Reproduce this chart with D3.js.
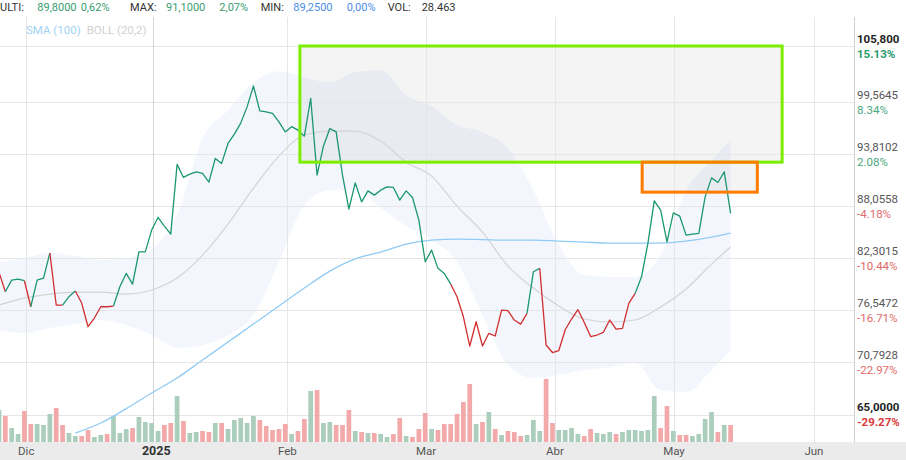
<!DOCTYPE html>
<html><head><meta charset="utf-8">
<script src="https://cdn.jsdelivr.net/npm/d3@7"></script>
<style>
html,body{margin:0;padding:0;background:#fff;}
svg{display:block;font-family:Roboto,"Noto Sans",sans-serif;}
</style></head><body>
<svg id="chart" width="906" height="460"></svg>
<script>
// ---------------- DATA ----------------
const closes = [80.77,78.59,79.88,79.99,79.81,76.93,79.88,80.10,82.87,77.12,
77.12,78.04,78.67,77.34,74.72,75.68,76.93,76.93,77.01,79.14,
80.62,79.44,83.01,83.01,85.42,86.82,85.86,84.97,92.69,91.25,
91.61,91.87,91.69,90.73,93.35,92.80,95.01,96.04,97.26,99.06,
101.38,98.62,98.51,98.33,97.40,96.29,96.87,96.48,95.82,99.99,
91.50,94.71,96.67,96.29,91.50,87.74,90.65,88.55,89.76,89.29,
89.84,90.21,90.14,88.74,89.76,89.03,86.52,81.91,83.20,81.18,
80.62,79.44,78.04,75.82,72.58,75.27,72.58,73.99,73.69,76.56,
76.49,75.46,75.01,76.20,80.80,81.18,72.69,71.86,72.08,74.38,
75.57,76.60,75.18,73.63,73.80,74.10,75.46,74.46,74.54,77.31,
78.41,80.25,83.94,88.66,87.63,84.12,87.33,86.97,84.86,84.97,
85.05,89.10,91.20,90.69,91.87,87.26];

// trend colour of each segment (i -> i+1): 1 = up (green), -1 = down (red)
const segTrend = [-1,1,1,1,-1,1,1,1,-1,-1,
1,1,-1,-1,-1,-1,-1,-1,1,1,
1,1,1,1,1,1,1,1,1,1,
1,1,1,1,1,1,1,1,1,1,
1,1,1,1,1,1,1,1,1,1,
1,1,1,1,1,1,1,1,1,1,
1,1,1,1,1,1,1,1,1,1,
1,-1,-1,-1,-1,-1,-1,-1,-1,-1,
-1,-1,-1,1,1,-1,-1,-1,-1,-1,
-1,-1,-1,-1,-1,-1,-1,-1,-1,-1,
1,1,1,1,1,1,1,1,1,1,
1,1,1,1,1];

// volume (thousands)
const volumes = [53.6,43.5,23.4,13.4,51.9,30.1,30.1,28.5,46.9,56.9,
28.5,15.1,10.0,10.0,20.1,8.4,11.7,13.4,43.5,15.1,
21.8,23.4,41.9,33.5,31.8,18.4,28.5,31.8,77.0,35.2,
15.1,16.7,18.4,16.7,31.8,31.8,21.8,36.8,40.2,31.8,
43.5,36.8,26.8,20.1,21.8,30.1,13.4,18.4,38.5,85.4,
87.0,31.8,33.5,28.5,28.5,53.6,18.4,16.7,15.1,15.1,
13.4,8.4,13.4,40.2,10.0,8.4,21.8,48.5,21.8,20.1,
30.1,30.1,46.9,67.0,97.1,30.1,33.5,50.2,21.8,11.7,
18.4,16.7,10.0,11.7,36.8,18.4,105.5,31.8,20.1,20.1,
23.4,13.4,10.0,21.8,15.1,13.4,16.7,13.4,16.7,20.1,
20.1,18.4,20.1,77.0,23.4,60.3,18.4,11.7,11.7,10.0,
13.4,38.5,50.2,16.7,28.5,28.5];
const volUp = [1,0,1,1,0,0,1,1,1,0,
0,1,1,0,0,1,1,0,1,1,
1,0,1,1,1,1,0,0,1,0,
1,1,0,0,1,0,1,1,1,1,
1,0,0,0,0,0,1,0,0,1,
0,1,1,0,0,0,1,0,1,0,
1,1,0,0,1,0,0,0,1,0,
0,0,0,0,0,1,0,1,0,1,
0,0,0,1,1,1,0,0,1,1,
1,1,0,0,1,1,1,0,1,1,
1,1,1,1,0,0,1,0,0,1,
1,1,1,0,1,0];

// Bollinger (20,2)
const bandIdx   = [0,4,8,12,16,20,24,28,32,36,40,44,48,52,56,60,64,68,72,76,80,84,88,92,96,100,104,108,112,115];
const bollUpper = [81.88,82.32,82.87,82.54,82.10,82.32,83.31,87.08,95.60,98.70,101.79,103.01,102.35,101.79,102.90,103.12,100.36,99.14,97.04,96.26,94.49,89.84,83.76,80.44,80.22,80.22,82.65,89.84,93.16,95.38];
const bollMid   = [77.12,77.89,78.33,78.56,78.56,78.33,78.78,80.11,82.65,86.08,90.06,93.61,95.93,96.37,96.37,95.27,92.94,91.39,88.07,85.20,81.43,79.00,77.01,75.57,75.24,75.46,76.90,78.89,81.65,83.54];
const bollLower = [74.35,74.02,74.57,75.01,75.46,74.90,73.80,72.36,72.69,73.80,76.01,81.88,88.18,89.84,89.84,87.85,85.86,84.31,81.88,76.01,70.48,69.04,69.37,69.92,70.26,70.70,67.71,67.49,69.92,72.14];

// SMA (100)
const smaIdx = [12,16,20,24,28,32,36,40,44,48,52,56,60,64,68,72,76,80,84,88,92,96,100,104,108,112,115];
const sma100 = [62.95,64.06,65.65,67.38,69.04,71.03,73.02,75.01,77.01,79.00,80.88,82.24,82.98,83.87,84.31,84.42,84.37,84.31,84.31,84.20,84.09,83.98,83.98,83.98,84.20,84.64,85.09];

// axis ticks
const priceTicks = [65,70.7928,76.5472,82.3015,88.0558,93.8102,99.5645,105.8];
const priceTickLabels = ["65,0000","70,7928","76,5472","82,3015","88,0558","93,8102","99,5645","105,800"];
const pctTickLabels = ["-29.27%","-22.97%","-16.71%","-10.44%","-4.18%","2.08%","8.34%","15.13%"];
const monthTickIdx = [4.29,24.26,45.32,67.12,87.4,106.1,128.1];
const monthTickLabels = ["Dic","2025","Feb","Mar","Abr","May","Jun"];

// annotation zones (index, price)
const zoneA = {i0:47.3, i1:123.1, pLow:92.94, pHigh:105.8};
const zoneB = {i0:101.1, i1:119.2, pLow:89.62, pHigh:92.94};

// header
const headerTexts = ["ULTI:","89,8000","0,62%","MAX:","91,1000","2,07%","MIN:","89,2500","0,00%","VOL:","28.463"];
const headerKinds = ["lab","up","up","lab","up","up","lab","min","min","lab","lab"];
const legendLabels = ["SMA (100)","BOLL (20,2)"];

// ---------------- LAYOUT ----------------
const W=906,H=460, plotL=0, plotR=854, plotT=17, plotB=442;
const svg=d3.select("#chart");

const x=d3.scaleLinear().domain([0,115]).range([-1.03,730.6]);
const y=d3.scaleLinear().domain([65,105.8]).range([414.5,46]);
const yv=d3.scaleLinear().domain([0,105.5]).range([plotB,plotB-63]);
const step=x(1)-x(0);

svg.append("defs").append("clipPath").attr("id","clip")
  .append("rect").attr("x",plotL).attr("y",plotT).attr("width",plotR-plotL).attr("height",plotB-plotT);

// bottom axis band
svg.append("rect").attr("x",0).attr("y",plotB).attr("width",W).attr("height",H-plotB).attr("fill","#ebebeb");

const plot=svg.append("g").attr("clip-path","url(#clip)");

// zone fills
[zoneA,zoneB].forEach(z=>{
  plot.append("rect").attr("x",x(z.i0)).attr("y",y(z.pHigh))
    .attr("width",x(z.i1)-x(z.i0)).attr("height",y(z.pLow)-y(z.pHigh))
    .attr("fill","rgba(0,0,0,0.045)");
});

// bollinger band
const bandArea=d3.area().curve(d3.curveMonotoneX)
  .x((d,k)=>x(bandIdx[k])).y0((d,k)=>y(bollLower[k])).y1((d,k)=>y(bollUpper[k]));
plot.append("path").attr("d",bandArea(bandIdx)).attr("fill","rgba(30,100,200,0.055)");

// gridlines
const grid=plot.append("g");
priceTicks.forEach(p=>{
  grid.append("line").attr("x1",plotL).attr("x2",plotR).attr("y1",Math.round(y(p))+0.5).attr("y2",Math.round(y(p))+0.5)
    .attr("stroke","#e6e6e6").attr("stroke-width",1);
});
monthTickIdx.forEach((m,k)=>{
  const xx=Math.round(x(m))+0.5;
  grid.append("line").attr("x1",xx).attr("x2",xx).attr("y1",plotT).attr("y2",plotB)
    .attr("stroke",monthTickLabels[k]==="2025"?"#d6d6d6":"#e6e6e6").attr("stroke-width",1);
});

// volume bars
plot.append("g").selectAll("rect").data(volumes).join("rect")
  .attr("x",(d,i)=>x(i)-step*0.37).attr("width",step*0.74)
  .attr("y",d=>yv(d)).attr("height",d=>plotB-yv(d))
  .attr("fill",(d,i)=>volUp[i]?"#abcdbb":"#f3a9a9");

// indicator lines
const bl=d3.line().curve(d3.curveMonotoneX).x((d,k)=>x(bandIdx[k])).y(d=>y(d));
plot.append("path").attr("d",bl(bollMid)).attr("fill","none").attr("stroke","#d4d4d4").attr("stroke-width",1.2);
const sl=d3.line().curve(d3.curveMonotoneX).x((d,k)=>x(smaIdx[k])).y(d=>y(d));
plot.append("path").attr("d",sl(sma100)).attr("fill","none").attr("stroke","#8fcbf5").attr("stroke-width",1.3);

// price line coloured by trend
const pl=d3.line().x(i=>x(i)).y(i=>y(closes[i]));
let start=0;
for(let s=1;s<=segTrend.length;s++){
  if(s===segTrend.length||segTrend[s]!==segTrend[start]){
    plot.append("path").attr("d",pl(d3.range(start,s+1))).attr("fill","none")
      .attr("stroke",segTrend[start]>0?"#1b9770":"#d12f2f").attr("stroke-width",1.3)
      .attr("stroke-linejoin","round");
    start=s;
  }
}

// zone borders
[[zoneA,"#7ded00"],[zoneB,"#ff7c00"]].forEach(([z,c])=>{
  plot.append("rect").attr("x",x(z.i0)).attr("y",y(z.pHigh))
    .attr("width",x(z.i1)-x(z.i0)).attr("height",y(z.pLow)-y(z.pHigh))
    .attr("fill","none").attr("stroke",c).attr("stroke-width",3);
});

// right axis
svg.append("line").attr("x1",plotR+0.5).attr("x2",plotR+0.5).attr("y1",plotT).attr("y2",plotB).attr("stroke","#d2d2d2");
const ax=svg.append("g").attr("font-size","11.5px");
priceTicks.forEach((p,k)=>{
  const yy=y(p); const edge=(k===0||k===priceTicks.length-1);
  ax.append("text").attr("x",plotR+3).attr("y",yy-7.5).attr("dy","0.35em")
    .attr("fill",edge?"#222":"#555").attr("font-weight",edge?"bold":"normal").text(priceTickLabels[k]);
  const up=p>=91.9;
  ax.append("text").attr("x",plotR+3).attr("y",yy+7.5).attr("dy","0.35em")
    .attr("fill",edge?(up?"#2a9a6c":"#d93a3a"):(up?"#4aa77d":"#e06a6a"))
    .attr("font-weight",edge?"bold":"normal").text(pctTickLabels[k]);
});

// month labels
monthTickIdx.forEach((m,k)=>{
  const yr=monthTickLabels[k]==="2025";
  svg.append("text").attr("x",x(m)+(yr?3:0)).attr("y",451).attr("dy","0.35em").attr("text-anchor","middle")
    .attr("font-size",yr?"12.5px":"11.5px")
    .attr("font-weight",yr?"bold":"normal")
    .attr("fill",yr?"#333":"#555").text(monthTickLabels[k]);
});

// header (x positions are layout)
const headerX=[0,37.3,80.7,130,166,219.3,260.7,293.3,346.7,387.7,421.7];
const hdr=svg.append("g").attr("font-size","11px");
headerTexts.forEach((t,k)=>{
  const kind=headerKinds[k];
  hdr.append("text").attr("x",headerX[k]).attr("y",7.5).attr("dy","0.35em")
    .attr("fill",kind==="up"?"#3a9d70":(kind==="min"?"#4b8ee8":"#333")).text(t);
});

// legend
const lg=svg.append("g").attr("font-size","11.5px");
const l1=lg.append("text").attr("x",26).attr("y",29.5).attr("dy","0.35em").attr("fill","#a3d3f5").text(legendLabels[0]);
lg.append("text").attr("x",26+l1.node().getComputedTextLength()+6).attr("y",29.5).attr("dy","0.35em").attr("fill","#d0d0d0").text(legendLabels[1]);
</script>
</body></html>
